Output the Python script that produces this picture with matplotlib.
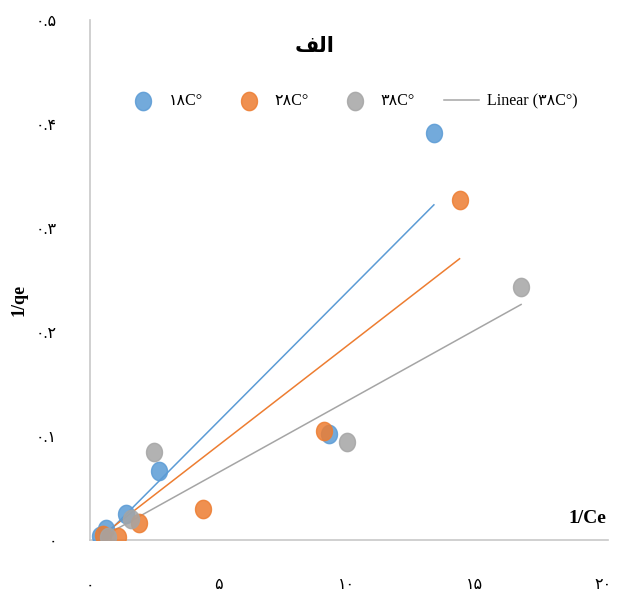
import numpy as np
import matplotlib.pyplot as plt
from matplotlib.path import Path

# 1/Ce and 1/qe
x_18 = [0.4, 0.6, 1.4, 2.7, 9.3, 13.4]
y_18 = [0.004, 0.011, 0.025, 0.066, 0.102, 0.392]
x_28 = [0.5, 1.1, 1.9, 4.4, 9.1, 14.4]
y_28 = [0.005, 0.003, 0.016, 0.030, 0.105, 0.327]
x_38 = [0.7, 1.6, 2.5, 10.0, 16.8]
y_38 = [0.003, 0.020, 0.085, 0.094, 0.243]

# linear trendlines as drawn in the picture (slope, intercept)
fit_slope = [0.0248, 0.0191, 0.0137]
fit_intercept = [-0.0099, -0.0045, -0.0036]

series_labels = ["۱۸C°", "۲۸C°", "۳۸C°"]
x_ticks = [0, 5, 10, 15, 20]
x_tick_labels = ["۰", "۵", "۱۰", "۱۵", "۲۰"]
y_ticks = [0, 0.1, 0.2, 0.3, 0.4, 0.5]
y_tick_labels = ["۰", "۰.۱", "۰.۲", "۰.۳", "۰.۴", "۰.۵"]

plt.rcParams["font.family"] = ["Liberation Serif", "DejaVu Sans"]

colors = ["#5b9bd5", "#ed7d31", "#a5a5a5"]

# slightly tall ellipse marker, like the stretched original
t = np.linspace(0, 2 * np.pi, 40)
ellipse = Path(np.column_stack([0.87 * np.cos(t), np.sin(t)]), closed=True)

fig = plt.figure(figsize=(6.22, 5.96), dpi=100)
ax = fig.add_axes([0.145, 0.094, 0.833, 0.872])

data = [(x_18, y_18), (x_28, y_28), (x_38, y_38)]
handles = []
for (xs, ys), color, label, m, b in zip(data, colors, series_labels, fit_slope, fit_intercept):
    xs = np.array(xs)
    ys = np.array(ys)
    h = ax.scatter(xs, ys, s=175, marker=ellipse, color=color, alpha=0.85,
                   edgecolors=color, linewidths=1.0, label=label, zorder=3)
    handles.append(h)
    xl = np.array([xs.min(), xs.max()])
    line, = ax.plot(xl, m * xl + b, color=color, linewidth=1.1, zorder=2)
handles.append(line)
labels = series_labels + ["Linear (۳۸C°)"]

ax.set_xlim(0, 20.2)
ax.set_ylim(0, 0.5)
ax.set_xticks(x_ticks)
ax.set_xticklabels(x_tick_labels)
ax.set_yticks(y_ticks)
ax.set_yticklabels(y_tick_labels)
ax.tick_params(axis="x", length=0, pad=27, labelsize=11.5)
ax.tick_params(axis="y", length=0, pad=24, labelsize=11.5)
for side in ["top", "right"]:
    ax.spines[side].set_visible(False)
for side in ["left", "bottom"]:
    ax.spines[side].set_color("#c8c8c8")
    ax.spines[side].set_linewidth(1.2)

# title "الف" written in visual order with presentation forms
fig.text(0.505, 0.922, "\uFED2\uFEDF\uFE8D", ha="center", va="center",
         fontsize=15, fontweight="bold", family=["DejaVu Sans"])

fig.text(0.03, 0.497, "1/qe", rotation=90, ha="center", va="center",
         fontsize=13, fontweight="bold")
fig.text(0.975, 0.115, "1/Ce", ha="right", va="bottom",
         fontsize=14, fontweight="bold")

fig.legend(handles, labels, loc="center", bbox_to_anchor=(0.565, 0.83), ncol=4,
           frameon=False, fontsize=11.5, handlelength=2.2, columnspacing=1.8,
           handletextpad=0.5, scatterpoints=1)

fig.savefig("out.png", dpi=100)
